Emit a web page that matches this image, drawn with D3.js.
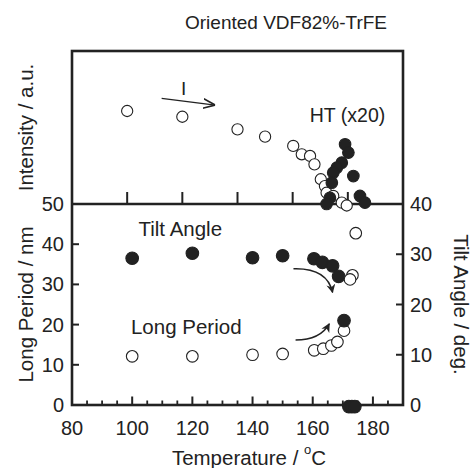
<!DOCTYPE html>
<html>
<head>
<meta charset="utf-8">
<script src="https://cdn.jsdelivr.net/npm/d3@7"></script>
<style>
  body { margin: 0; background: #fff; }
  svg { display: block; }
  text { font-family: "Liberation Sans", Arial, Helvetica, sans-serif; fill: #222; }
</style>
</head>
<body>
<svg id="chart" width="473" height="468"></svg>
<script>
// ---- data ----
const tempTicks = [80, 100, 120, 140, 160, 180];
const lpTicks = [0, 10, 20, 30, 40, 50];
const tiltTicks = [0, 10, 20, 30, 40];

// top panel: intensity I (open) and HT x20 (filled), arbitrary units
const intT = [100, 120, 140, 150, 160.2, 163.3, 166.3, 167.9, 170.2, 171.7, 172.3, 174.7, 177.8, 179.6];
const intI = [6.12, 5.74, 4.91, 4.43, 3.82, 3.27, 3.16, 2.61, 1.63, 1.18, 0.74, 0.53, 0.09, -0.1];
const htT = [179, 180.2, 177.8, 176, 174.7, 174.2, 182, 173.5, 172.3, 184.4, 186.2];
const htI = [3.93, 3.38, 2.72, 2.39, 2.06, 1.40, 1.84, 0.41, 0, 0.53, 0.09];

// bottom panel: long period (nm, left axis)
const lpT = [100, 120, 140, 150, 160.5, 163.5, 166.2, 168.2, 170.4];
const lpOpen = [12.1, 12.1, 12.5, 12.7, 13.6, 14.0, 14.8, 15.7, 18.5];
const lpHtT = [170.4, 172, 173, 174];
const lpHt = [21, -0.4, -0.4, -0.4];

// bottom panel: tilt angle (deg, right axis)
const tiltT = [100, 120, 140, 150, 160.4, 163.2, 166.6, 168.6];
const tiltFilled = [29.2, 30.2, 29.3, 29.7, 29.1, 28.4, 27.7, 25.6];
const tiltOpenT = [174.3, 173.2, 172.4];
const tiltOpen = [34.2, 25.8, 25.0];

const svg = d3.select("#chart");
const L = 72, R = 403, T0 = 51, MID = 204, B = 405;

const xTop = d3.scaleLinear().domain([80, 200]).range([L, R]);
const xBot = d3.scaleLinear().domain([80, 190]).range([L, R]);
const yInt = d3.scaleLinear().domain([0, 10]).range([MID, T0 + 1]);
const yLp = d3.scaleLinear().domain([0, 50]).range([B, MID]);
const yTilt = d3.scaleLinear().domain([0, 40]).range([B, MID]);

const ink = "#222";

// defs: arrowheads
const defs = svg.append("defs");
defs.append("marker").attr("id", "headFill")
  .attr("viewBox", "0 0 10 10").attr("refX", 9).attr("refY", 5)
  .attr("markerWidth", 9).attr("markerHeight", 9).attr("markerUnits", "userSpaceOnUse")
  .attr("orient", "auto")
  .append("path").attr("d", "M0,0 L10,5 L0,10 L3,5 Z").attr("fill", ink);
defs.append("marker").attr("id", "headOpen")
  .attr("viewBox", "0 0 10 10").attr("refX", 10).attr("refY", 5)
  .attr("markerWidth", 12).attr("markerHeight", 12).attr("markerUnits", "userSpaceOnUse")
  .attr("orient", "auto")
  .append("path").attr("d", "M0,1 L10,5 L0,9").attr("fill", "none").attr("stroke", ink).attr("stroke-width", 1.3);

// ---- ticks ----
const g = svg.append("g");
// top panel x ticks (pointing up from divider)
g.selectAll(".ttop").data(tempTicks.filter(d => d > 80)).enter().append("line")
  .attr("x1", d => xTop(d)).attr("x2", d => xTop(d))
  .attr("y1", MID).attr("y2", MID - 12)
  .attr("stroke", ink).attr("stroke-width", 2);

// bottom x ticks: major every 20, minor every 5
const minor = d3.range(85, 190, 5).filter(d => d % 20 !== 0);
g.selectAll(".tmin").data(minor).enter().append("line")
  .attr("x1", d => xBot(d)).attr("x2", d => xBot(d))
  .attr("y1", B).attr("y2", B - 4.5)
  .attr("stroke", ink).attr("stroke-width", 1.8);
g.selectAll(".tmaj").data(tempTicks.filter(d => d > 80)).enter().append("line")
  .attr("x1", d => xBot(d)).attr("x2", d => xBot(d))
  .attr("y1", B).attr("y2", B - 8.5)
  .attr("stroke", ink).attr("stroke-width", 2);

// left ticks
g.selectAll(".tl").data(lpTicks.filter(d => d > 0 && d < 50)).enter().append("line")
  .attr("x1", L).attr("x2", L + 7)
  .attr("y1", d => yLp(d)).attr("y2", d => yLp(d))
  .attr("stroke", ink).attr("stroke-width", 2);
// right ticks
g.selectAll(".tr").data(tiltTicks.filter(d => d > 0 && d < 40)).enter().append("line")
  .attr("x1", R).attr("x2", R - 7)
  .attr("y1", d => yTilt(d)).attr("y2", d => yTilt(d))
  .attr("stroke", ink).attr("stroke-width", 2);

// ---- frame ----
svg.append("rect").attr("x", L).attr("y", T0).attr("width", R - L).attr("height", B - T0)
  .attr("fill", "none").attr("stroke", ink).attr("stroke-width", 2.6);
svg.append("line").attr("x1", L).attr("x2", R).attr("y1", MID).attr("y2", MID)
  .attr("stroke", ink).attr("stroke-width", 2.6);

// ---- tick labels ----
const fs = 20;
svg.selectAll(".xl").data(tempTicks).enter().append("text")
  .attr("x", d => xBot(d)).attr("y", B + 30)
  .attr("text-anchor", "middle").attr("font-size", fs).text(d => d);
svg.selectAll(".yl").data(lpTicks).enter().append("text")
  .attr("x", L - 8).attr("y", d => yLp(d) + 7)
  .attr("text-anchor", "end").attr("font-size", fs).text(d => d);
svg.selectAll(".yr").data(tiltTicks).enter().append("text")
  .attr("x", R + 7).attr("y", d => yTilt(d) + 7)
  .attr("text-anchor", "start").attr("font-size", fs).text(d => d);

// ---- axis titles ----
const xt = svg.append("text").attr("x", 249).attr("y", 465)
  .attr("text-anchor", "middle").attr("font-size", 20.5);
xt.append("tspan").text("Temperature / ");
xt.append("tspan").attr("font-size", 13).attr("dy", -11).text("o");
xt.append("tspan").attr("dy", 11).text("C");

svg.append("text").attr("transform", `translate(33,${(T0 + MID) / 2}) rotate(-90)`)
  .attr("text-anchor", "middle").attr("font-size", 20.5).text("Intensity / a.u.");
svg.append("text").attr("transform", `translate(33,${(MID + B) / 2}) rotate(-90)`)
  .attr("text-anchor", "middle").attr("font-size", 20.5).text("Long Period / nm");
svg.append("text").attr("transform", `translate(454,${(MID + B) / 2}) rotate(90)`)
  .attr("text-anchor", "middle").attr("font-size", 20.5).text("Tilt Angle / deg.");

svg.append("text").attr("x", 286).attr("y", 29)
  .attr("text-anchor", "middle").attr("font-size", 19).text("Oriented VDF82%-TrFE");

// ---- annotations ----
svg.append("text").attr("x", xTop(120.5)).attr("y", yInt(7.2))
  .attr("text-anchor", "middle").attr("font-size", 19).text("I");
svg.append("text").attr("x", xTop(166.2)).attr("y", yInt(5.4))
  .attr("text-anchor", "start").attr("font-size", 19.5).text("HT (x20)");
svg.append("text").attr("x", xBot(102.1)).attr("y", yTilt(33.6))
  .attr("text-anchor", "start").attr("font-size", 20.5).text("Tilt Angle");
svg.append("text").attr("x", xBot(99.6)).attr("y", yLp(17.6))
  .attr("text-anchor", "start").attr("font-size", 20.5).text("Long Period");

svg.append("line")
  .attr("x1", xTop(112.5)).attr("y1", yInt(6.95))
  .attr("x2", xTop(131.9)).attr("y2", yInt(6.51))
  .attr("stroke", ink).attr("stroke-width", 1.3).attr("marker-end", "url(#headOpen)");

const tiltArrow = d3.path();
tiltArrow.moveTo(xBot(153.6), yTilt(27.1));
tiltArrow.quadraticCurveTo(xBot(164.8), yTilt(27.3), xBot(166.6), yTilt(22.4));
svg.append("path").attr("d", tiltArrow.toString()).attr("fill", "none")
  .attr("stroke", ink).attr("stroke-width", 1.5).attr("marker-end", "url(#headFill)");

const lpArrow = d3.path();
lpArrow.moveTo(xBot(154.3), yLp(16.2));
lpArrow.quadraticCurveTo(xBot(162.5), yLp(16.2), xBot(165.5), yLp(20.2));
svg.append("path").attr("d", lpArrow.toString()).attr("fill", "none")
  .attr("stroke", ink).attr("stroke-width", 1.5).attr("marker-end", "url(#headFill)");

// ---- points ----
function dots(xs, ys, xScale, yScale, filled, r) {
  svg.append("g").selectAll("circle").data(xs.map((x, i) => [x, ys[i]])).enter()
    .append("circle")
    .attr("cx", d => xScale(d[0])).attr("cy", d => yScale(d[1]))
    .attr("r", r)
    .attr("fill", filled ? ink : "#fff")
    .attr("stroke", ink).attr("stroke-width", 1.1);
}
dots(intT, intI, xTop, yInt, false, 5.6);
dots(htT, htI, xTop, yInt, true, 5.8);
dots(tiltT, tiltFilled, xBot, yTilt, true, 6.3);
dots(tiltOpenT, tiltOpen, xBot, yTilt, false, 5.8);
dots(lpT, lpOpen, xBot, yLp, false, 5.8);
dots(lpHtT, lpHt, xBot, yLp, true, 6.3);
</script>
</body>
</html>
